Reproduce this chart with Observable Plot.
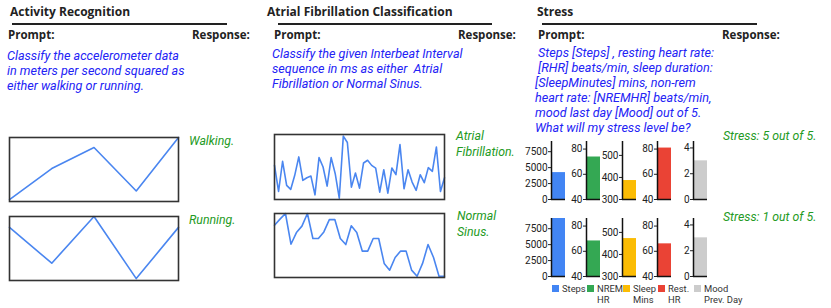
<!DOCTYPE html>
<html>
<head>
<meta charset="utf-8">
<script src="https://cdn.jsdelivr.net/npm/d3@7"></script>
<script src="https://cdn.jsdelivr.net/npm/@observablehq/plot@0.6"></script>
<style>
  html, body { margin: 0; padding: 0; background: #fff; }
  #root { position: relative; width: 831px; height: 308px; overflow: hidden; font-family: "Open Sans", Roboto, sans-serif; }
  .abs { position: absolute; white-space: nowrap; }
  .title { font-weight: bold; font-size: 12px; color: #222; }
  .hdr { font-weight: bold; font-size: 11.5px; color: #222; }
  .prompt { font-family: Roboto, sans-serif; font-style: italic; font-size: 12.6px; line-height: 15px; color: #2323f5; }
  .resp { font-family: Roboto, sans-serif; font-style: italic; font-size: 12.3px; line-height: 15.5px; color: #239a23; }
  .rule { position: absolute; height: 2px; background: #222; }
  .leg { position: absolute; font-family: Roboto, sans-serif; font-size: 9.4px; line-height: 11px; color: #333; display: flex; align-items: flex-start; }
  .sw { width: 7px; height: 7px; margin-right: 3px; margin-top: 2px; flex: none; }
  svg { overflow: visible; }
</style>
</head>
<body>
<div id="root"></div>
<script>
// ---------- data ----------
const activityLabels = ["Walking.", "Running."];
const walkingAccel = [0.0, 0.50, 0.84, 0.14, 1.0];
const runningAccel = [0.83, 0.27, 1.0, 0.03, 0.83];

const afibLabels = ["Atrial", "Fibrillation."];
const afibIBI = [815, 574, 853, 630, 593, 723, 893, 676, 701, 716, 543, 887, 800, 624, 887, 738, 512,
  1085, 1026, 614, 744, 605, 837, 862, 815, 790, 568, 775, 559, 791, 729, 1007, 599, 775, 661, 584,
  729, 655, 794, 760, 985, 574, 701];
const sinusLabels = ["Normal", "Sinus."];
const sinusIBI = [927, 965, 1000, 808, 881, 921, 1000, 844, 844, 885, 962, 962, 844, 806, 923, 881,
  765, 765, 844, 844, 688, 646, 725, 765, 765, 646, 608, 688, 806, 725, 608, 608];

const stressFeatures = ["Steps", "NREM HR", "Sleep Mins", "Rest. HR", "Mood Prev. Day"];
const legendLines = [["Steps"], ["NREM", "HR"], ["Sleep", "Mins"], ["Rest.", "HR"], ["Mood", "Prev. Day"]];
const featureColors = ["#4285F4", "#34A853", "#FBBC04", "#EA4335", "#CCCCCC"];
const featureDomains = [[0, 9100], [40, 86], [300, 563], [40, 86], [0, 4.5]];
const featureTicks = [[0, 2500, 5000, 7500], [40, 60, 80], [300, 400, 500], [40, 60, 80], [0, 2, 4]];
const stressDay1 = [4220, 73.7, 386, 80.8, 3];
const stressDay2 = [9100, 68.2, 472, 65.9, 3];
const stressResponses = ["Stress: 5 out of 5.", "Stress: 1 out of 5."];

const titles = ["Activity Recognition", "Atrial Fibrillation Classification", "Stress"];
const prompts = [
  ["Classify the accelerometer data", "in meters per second squared as", "either walking or running."],
  ["Classify the given Interbeat Interval", "sequence in ms as either  Atrial", "Fibrillation or Normal Sinus."],
  [" Steps [Steps] , resting heart rate:", " [RHR] beats/min, sleep duration:", "[SleepMinutes] mins, non-rem",
   "heart rate: [NREMHR] beats/min,", "mood last day [Mood] out of 5.", "What will my stress level be?"]
];

// ---------- layout helpers ----------
const root = document.getElementById("root");
function place(el, x, y) { el.style.position = "absolute"; el.style.left = x + "px"; el.style.top = y + "px"; root.appendChild(el); return el; }
function text(cls, str, x, y) { const d = document.createElement("div"); d.className = "abs " + cls; d.textContent = str; return place(d, x, y); }
function lines(cls, arr, x, y) { const d = document.createElement("div"); d.className = "abs " + cls; d.innerHTML = arr.map(s => s.replace(/&/g,"&amp;").replace(/</g,"&lt;").replace(/ /g, "&nbsp;")).join("<br>"); return place(d, x, y); }
function rule(x1, x2, y) { const d = document.createElement("div"); d.className = "rule"; d.style.width = (x2 - x1) + "px"; return place(d, x1, y); }

// headers
const panels = [
  {tx: 10, rx1: 12, rx2: 227, px: 8, rsx: 192, qx: 7, qy: 48},
  {tx: 267, rx1: 278, rx2: 492, px: 274, rsx: 458, qx: 272, qy: 46},
  {tx: 537, rx1: 542, rx2: 757, px: 538, rsx: 722, qx: 535, qy: 45}
];
panels.forEach((p, i) => {
  text("title", titles[i], p.tx, 3);
  rule(p.rx1, p.rx2, 23);
  text("hdr", "Prompt:", p.px, 27);
  text("hdr", "Response:", p.rsx, 27);
  lines("prompt", prompts[i], p.qx, p.qy);
});

// ---------- line charts ----------
function lineChart(values, domain, w, h) {
  return Plot.plot({
    width: w, height: h, margin: 0,
    x: {axis: null, domain: [0, values.length - 1]},
    y: {axis: null, domain},
    marks: [
      Plot.lineY(values, {x: (d, i) => i, y: d => d, stroke: "#4a86f0", strokeWidth: 1.6}),
      Plot.frame({stroke: "#333", strokeWidth: 1.6})
    ]
  });
}
place(lineChart(walkingAccel, [-0.03, 1.0], 169, 64), 9, 137);
place(lineChart(runningAccel, [0.0, 1.0], 169, 64), 9, 216);
place(lineChart(afibIBI, [500, 1100], 170, 65), 274, 134);
place(lineChart(sinusIBI, [600, 1000], 170, 64), 274, 213);

text("resp", activityLabels[0], 189, 134);
text("resp", activityLabels[1], 189, 213);
lines("resp", afibLabels, 456, 129);
lines("resp", sinusLabels, 457, 209);
text("resp", stressResponses[0], 723, 129);
text("resp", stressResponses[1], 723, 210);

// ---------- stress mini bar charts ----------
const axisXs = [551, 586, 622, 657, 693];
function miniBar(i, value) {
  const [lo, hi] = featureDomains[i];
  return Plot.plot({
    width: 48, height: 70,
    marginLeft: 32, marginRight: 2, marginTop: 6, marginBottom: 6,
    style: {fontSize: "10px", fontFamily: "Roboto, sans-serif", color: "#222"},
    x: {axis: null, domain: [0, 1]},
    y: {domain: [lo, hi], ticks: featureTicks[i], tickFormat: d => String(d), tickSize: 3, tickPadding: 1, label: null},
    marks: [
      Plot.rectY([value], {x1: 0, x2: 1, y1: lo, y2: d => d, fill: featureColors[i]}),
      Plot.ruleX([0], {y1: lo, y2: hi, stroke: "#111", strokeWidth: 1.5}),
      Plot.ruleY([lo], {x1: 0, x2: 1, stroke: "#111", strokeWidth: 1.5})
    ]
  });
}
[stressDay1, stressDay2].forEach((day, r) => {
  day.forEach((v, i) => {
    place(miniBar(i, v), axisXs[i] - 32, r === 0 ? 135 : 212);
  });
});

// legend
stressFeatures.forEach((f, i) => {
  const d = document.createElement("div");
  d.className = "leg";
  const sw = document.createElement("div");
  sw.className = "sw"; sw.style.background = featureColors[i];
  const t = document.createElement("div");
  t.innerHTML = legendLines[i].join("<br>");
  d.appendChild(sw); d.appendChild(t);
  place(d, axisXs[i] + 1, 283);
});
</script>
</body>
</html>
